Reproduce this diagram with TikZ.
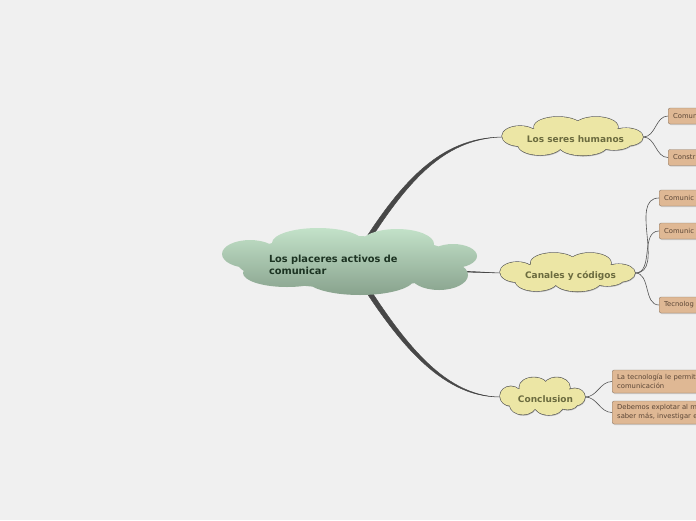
\documentclass[tikz,border=0pt]{standalone}
\usepackage{fontspec}
\setmainfont{DejaVu Sans}
\usetikzlibrary{
  shadows,
  backgrounds,
  calc
}
\definecolor{bggray}{HTML}{F0F0F0}
\definecolor{roottop}{HTML}{C3E2C9}
\definecolor{rootbot}{HTML}{88A28D}
\definecolor{roottext}{HTML}{1C3322}
\definecolor{topicfill}{HTML}{ECE6A5}
\definecolor{topictext}{HTML}{6B6B3F}
\definecolor{leaffill}{HTML}{DFB894}
\definecolor{leafline}{HTML}{8E7A68}
\definecolor{leaftext}{HTML}{5B4636}
\definecolor{trunkgray}{HTML}{474747}
\definecolor{twiggray}{HTML}{555555}

\tikzset{
  rootpuffs/.style={insert path={
    (-99,-7) ellipse [x radius=28, y radius=14]
    (-31,-18) ellipse [x radius=46, y radius=15]
    (48,-17) ellipse [x radius=37, y radius=15]
    (104,-5) ellipse [x radius=24, y radius=12]
    (90,14) ellipse [x radius=29, y radius=15]
    (11,18) ellipse [x radius=54, y radius=16]
    (-62,12) ellipse [x radius=44, y radius=14]
    (0,1) ellipse [x radius=112, y radius=26]}},
  topicpuffs/.style={insert path={
    (-0.745,-0.05) ellipse [x radius=0.255, y radius=0.53]
    (-0.206,-0.53) ellipse [x radius=0.34, y radius=0.53]
    (0.333,-0.53) ellipse [x radius=0.312, y radius=0.53]
    (0.759,0) ellipse [x radius=0.241, y radius=0.47]
    (-0.461,0.42) ellipse [x radius=0.312, y radius=0.53]
    (0.149,0.47) ellipse [x radius=0.34, y radius=0.5]
    (0.589,0.26) ellipse [x radius=0.255, y radius=0.42]
    (0,0) ellipse [x radius=0.74, y radius=0.66]}}
}

% cloud behind a topic node: name, half width, half height
\newcommand{\topiccloud}[3]{%
  \fill[black, opacity=0.2, shift={($(#1.center)+(0.6,1.2)$)}, x=#2pt, y=-#3pt, topicpuffs];
  \draw[twiggray, line width=1.2pt, shift={(#1.center)}, x=#2pt, y=-#3pt, topicpuffs];
  \fill[topicfill, shift={(#1.center)}, x=#2pt, y=-#3pt, topicpuffs];
}

\begin{document}
\begin{tikzpicture}[
  x=1pt, y=-1pt,
  root/.style={minimum width=254pt, minimum height=68pt, inner sep=0pt,
               text width=160pt, align=left, text=roottext,
               font=\fontsize{9.8}{12}\selectfont\bfseries},
  topic/.style={minimum width=#1, minimum height=38pt, inner sep=0pt,
                text height=12.5pt, text depth=2.5pt,
                execute at begin node=\hspace*{6pt},
                text=topictext, font=\fontsize{9}{10}\selectfont\bfseries},
  leaf/.style={draw=leafline, fill=leaffill, rounded corners=2pt, anchor=west,
               text width=110pt, align=left, minimum height=#1, inner xsep=5pt,
               text=leaftext, font=\fontsize{6.8}{9}\selectfont,
               drop shadow={shadow xshift=1pt, shadow yshift=-1.2pt, opacity=0.3}},
  trunk/.style={fill=trunkgray, draw=trunkgray, line width=0.4pt},
  twig/.style={draw=twiggray, line width=0.6pt}
]
  \useasboundingbox (0,0) rectangle (696,520);

  % Central idea
  \node[root] (root) at (349,265) {Los placeres activos de\\comunicar};

  % Main topics
  \node[topic=141pt] (seres) at (572.5,137) {Los seres humanos};
  \node[topic=135pt] (canales) at (567.5,273) {Canales y códigos};
  \node[topic=85pt] (conclusion) at (542.5,397) {Conclusion};

  % Leaves
  \node[leaf=16pt] (seres1) at (668,116) {Comun};
  \node[leaf=16pt] (seres2) at (668,157.5) {Constr};
  \node[leaf=16pt] (canales1) at (659,198) {Comunic};
  \node[leaf=16pt] (canales2) at (659,231) {Comunic};
  \node[leaf=16pt] (canales3) at (659,305) {Tecnolog};
  \node[leaf=23pt] (concl1) at (612,381.5) {La tecnología le permit\\comunicación};
  \node[leaf=23pt] (concl2) at (612,412.5) {Debemos explotar al m\\saber más, investigar e};

  \begin{scope}[on background layer]
    \fill[bggray] (0,0) rectangle (696,520);
    % Trunks
    \fill[trunk] (root.center) .. controls (400,180) and (440,138) .. (seres.west)
      .. controls (442,139) and (404,183) .. ($(root.center)+(5,1)$) -- cycle;
    \fill[trunk] (root.center) -- (canales.west) -- ($(root.center)+(0,4)$) -- cycle;
    \fill[trunk] (root.center) .. controls (395,340) and (440,397) .. (conclusion.west)
      .. controls (442,396) and (400,338) .. ($(root.center)+(5,-1)$) -- cycle;
    % Clouds
    \shade[top color=roottop, bottom color=rootbot,
           shift={($(root.center)+(0,-4)$)}, rootpuffs];
    \topiccloud{seres}{70.5}{19}
    \topiccloud{canales}{67.5}{19}
    \topiccloud{conclusion}{42.5}{18.5}
  \end{scope}

  % Twigs
  \draw[twig] (seres.east) to[out=0, in=180] (seres1.west);
  \draw[twig] (seres.east) to[out=0, in=180] (seres2.west);
  \draw[twig] (canales.east) to[out=0, in=180] (canales1.west);
  \draw[twig] (canales.east) to[out=0, in=180] (canales2.west);
  \draw[twig] (canales.east) to[out=0, in=180] (canales3.west);
  \draw[twig] (conclusion.east) to[out=0, in=180] (concl1.west);
  \draw[twig] (conclusion.east) to[out=0, in=180] (concl2.west);
\end{tikzpicture}
\end{document}
